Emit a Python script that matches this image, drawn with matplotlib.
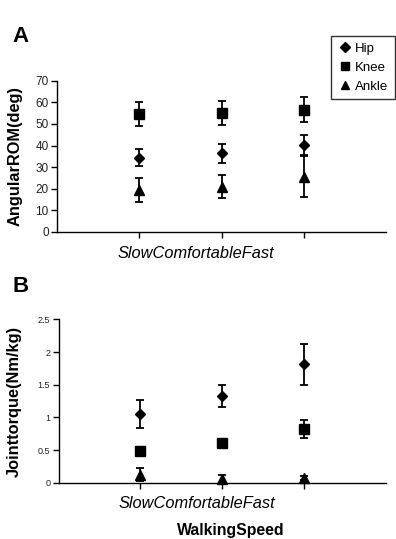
import numpy as np
import matplotlib
matplotlib.use('Agg')
import matplotlib.pyplot as plt
from matplotlib.lines import Line2D

plt.rcParams['font.family'] = ['Liberation Sans', 'DejaVu Sans']

# --------- Data ---------
speeds = ['Slow', 'Comfortable', 'Fast']
joints = ['Hip', 'Knee', 'Ankle']
markers = ['D', 's', '^']

rom_hip = [34.4, 36.4, 40.1]
rom_hip_err = [4.1, 4.3, 4.6]
rom_knee = [54.5, 55.1, 56.7]
rom_knee_err = [5.6, 5.6, 6.0]
rom_ankle = [19.4, 20.9, 25.6]
rom_ankle_err = [5.5, 5.3, 9.6]

tq_hip = [1.05, 1.33, 1.81]
tq_hip_err = [0.21, 0.17, 0.31]
tq_knee = [0.49, 0.61, 0.82]
tq_knee_err = [0.06, 0.06, 0.14]
tq_ankle = [0.12, 0.05, 0.07]
tq_ankle_err = [0.10, 0.06, 0.03]

x = np.arange(1, len(speeds) + 1)
msizes = {'D': 5.5, 's': 6.5, '^': 6.5}

fig = plt.figure(figsize=(3.96, 5.39), dpi=100)
axA = fig.add_axes([0.144, 0.570, 0.831, 0.280])
axB = fig.add_axes([0.148, 0.1045, 0.827, 0.303])


def draw(ax, series, ymax, ystep, tick_fs, tick_fmt):
    for (vals, errs), m, lab in zip(series, markers, joints):
        ax.errorbar(x, vals, yerr=errs, fmt=m, color='black', ecolor='black',
                    markersize=msizes[m], elinewidth=1.3,
                    capsize=3, capthick=1.3, label=lab, clip_on=False)
    ax.set_xlim(0, 4)
    ax.set_ylim(0, ymax)
    ax.set_xticks(x)
    ax.set_xticklabels([])
    yt = np.arange(0, ymax + ystep / 2, ystep)
    ax.set_yticks(yt)
    ax.set_yticklabels([tick_fmt(v) for v in yt], fontsize=tick_fs, color='#222222')
    ax.tick_params(axis='both', direction='out', length=4, width=1, pad=2)
    ax.spines['top'].set_visible(False)
    ax.spines['right'].set_visible(False)
    ax.spines['left'].set_linewidth(1)
    ax.spines['bottom'].set_linewidth(1)


draw(axA, [(rom_hip, rom_hip_err), (rom_knee, rom_knee_err), (rom_ankle, rom_ankle_err)],
     70, 10, 8.5, lambda v: f'{v:.0f}')
draw(axB, [(tq_hip, tq_hip_err), (tq_knee, tq_knee_err), (tq_ankle, tq_ankle_err)],
     2.5, 0.5, 6.5, lambda v: f'{v:g}')

axA.set_ylabel('AngularROM(deg)', fontsize=11.8, fontweight='bold')
axB.set_ylabel('Jointtorque(Nm/kg)', fontsize=11.8, fontweight='bold')
axA.yaxis.set_label_coords(-0.105, 0.5)
axB.yaxis.set_label_coords(-0.112, 0.5)

fig.text(196 / 396, 1 - 253 / 539, 'SlowComfortableFast', style='italic',
         fontsize=11.8, ha='center', va='center')
fig.text(197 / 396, 1 - 503 / 539, 'SlowComfortableFast', style='italic',
         fontsize=11.8, ha='center', va='center')
fig.text(231 / 396, 1 - 538 / 539, 'WalkingSpeed', fontweight='bold',
         fontsize=11.4, ha='center', va='bottom')

fig.text(12 / 396, 1 - 36 / 539, 'A', fontsize=16, fontweight='bold', va='center')
fig.text(12 / 396, 1 - 286 / 539, 'B', fontsize=16, fontweight='bold', va='center')

handles = [Line2D([], [], marker=m, color='black', linestyle='none',
                  markersize=msizes[m] - 0.5) for m in markers]
leg = axA.legend(handles, joints, loc='upper right',
                 bbox_to_anchor=(395 / 396, 1 - 36 / 539),
                 bbox_transform=fig.transFigure, frameon=True, fancybox=False,
                 fontsize=9.5, handletextpad=0.3, handlelength=1.0,
                 borderpad=0.5, labelspacing=0.5, borderaxespad=0)
leg.get_frame().set_edgecolor('black')
leg.get_frame().set_linewidth(1)

fig.savefig('out.png', dpi=100)
